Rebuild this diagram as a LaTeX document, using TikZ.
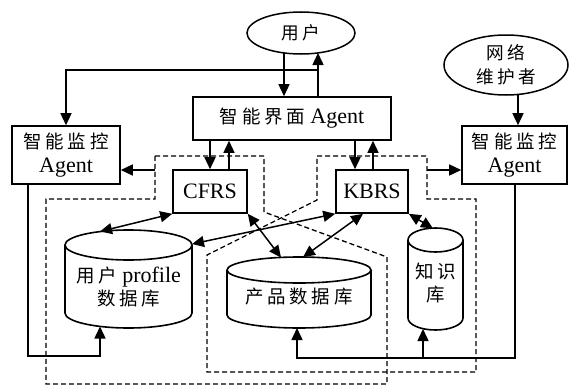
\documentclass[tikz,border=0pt]{standalone}
\usepackage{fontspec}
\setmainfont{Liberation Serif}
\newfontfamily\cjk[Scale=0.84,LetterSpace=20]{Noto Sans CJK SC}
\usetikzlibrary{arrows.meta,shapes.geometric}
\tikzset{
 box/.style={draw, line width=1.6pt, inner sep=0pt, align=center, font=\fontsize{22}{24}\selectfont},
 ell/.style={draw, ellipse, line width=1.5pt, inner sep=0pt, align=center, font=\fontsize{21}{24}\selectfont},
 lbl/.style={inner sep=0pt, align=center, font=\fontsize{22}{23}\selectfont},
 arr/.style={line width=1.5pt, -{Triangle[length=12pt,width=11pt]}},
 darr/.style={line width=1.5pt, {Triangle[length=12pt,width=11pt]}-{Triangle[length=12pt,width=11pt]}},
 dsh/.style={line width=1.3pt, dash pattern=on 5pt off 3pt},
 dbline/.style={line width=1.6pt},
}
\newcommand{\mycyl}[5]{%
 \draw[dbline] (#1-#2,#3) -- (#1-#2,#4) arc[start angle=180,end angle=0,x radius=#2,y radius=#5] -- (#1+#2,#3);
 \draw[dbline] (#1,#3) ellipse[x radius=#2, y radius=#5];}
\begin{document}
\begin{tikzpicture}[x=1pt,y=-1pt]
\useasboundingbox (0,0) rectangle (571,388);
% dashed regions
\draw[dsh] (155,156) -- (264,156) -- (264,212) -- (387,257) -- (387,384) -- (46,384) -- (46,199) -- (155,199) -- cycle;
\draw[dsh] (317,156) -- (427,156) -- (427,199) -- (476,199) -- (476,372) -- (207,372) -- (207,255) -- (317,200) -- cycle;
% nodes
\node[ell, minimum width=108, minimum height=42] (user) at (301,33) {\cjk 用户};
\node[ell, minimum width=124, minimum height=60] (net) at (506,65) {\cjk 网络\\\cjk 维护者};
\node[box, minimum width=198, minimum height=43] (iface) at (292,118.5) {{\cjk 智能界面} Agent};
\node[box, minimum width=108, minimum height=58] (lmon) at (66,155) {{\cjk 智能监控}\\Agent};
\node[box, minimum width=105, minimum height=58] (rmon) at (514.5,155) {{\cjk 智能监控}\\Agent};
\node[box, minimum width=74, minimum height=43] (cfrs) at (210,191.5) {CFRS};
\node[box, minimum width=72, minimum height=43] (kbrs) at (372,191.5) {KBRS};
% databases
\mycyl{128.5}{63.5}{245}{313}{15}
\mycyl{299}{72}{270}{315}{13}
\mycyl{435.5}{27.5}{240}{318}{12}
\node[lbl] (udb) at (128.5,287) {{\cjk 用户} profile\\{\cjk 数据库}};
\node[lbl] (pdb) at (299,297) {\cjk 产品数据库};
\node[lbl] (kdb) at (435.5,283) {\cjk 知识\\\cjk 库};
% coordinates
\coordinate (u1) at (284,53);
\coordinate (u2) at (318,53);
\coordinate (br) at (318,70);
\coordinate (n1) at (518,94);
\coordinate (d1) at (155,170);
\coordinate (d2) at (427,170);
\coordinate (udT) at (100,231.5);
\coordinate (udR) at (192,244);
\coordinate (pdT1) at (281,257.5);
\coordinate (pdT2) at (303,257.2);
\coordinate (kdT) at (433,228.5);
\coordinate (udB) at (100,326.5);
\coordinate (pdB) at (297,328);
\coordinate (kdB) at (423,329);
\coordinate (lf1) at (28,184);
\coordinate (lf2) at (28,356);
\coordinate (rf1) at (515,184);
\coordinate (rf2) at (515,358);
\coordinate (rf3) at (423,358);
% connectors top
\draw[arr] (u1) -- (u1 |- iface.north);
\draw[arr] (u2 |- iface.north) -- (u2);
\draw[arr] (br) -| (lmon.north);
\draw[arr] (n1) -- (n1 |- rmon.north);
\draw[arr] (cfrs.north |- iface.south) -- (cfrs.north);
\draw[arr] ([xshift=19pt]cfrs.north) -- ([xshift=19pt]cfrs.north |- iface.south);
\draw[arr] ([xshift=-17pt]kbrs.north |- iface.south) -- ([xshift=-17pt]kbrs.north);
\draw[arr] ([xshift=1pt]kbrs.north) -- ([xshift=1pt]kbrs.north |- iface.south);
\draw[arr] (d1) -- (d1 -| lmon.east);
\draw[arr] (d2) -- (d2 -| rmon.west);
% db links
\draw[darr] (cfrs.south west) -- (udT);
\draw[darr] (cfrs.south east) -- (pdT1);
\draw[darr] (kbrs.south west) -- (udR);
\draw[darr] ([xshift=-9pt]kbrs.south) -- (pdT2);
\draw[darr] (kbrs.south east) -- (kdT);
% feedback
\draw[arr] (lf1) -- (lf2) -| (udB);
\draw[arr] (rf1) -- (rf2) -| (pdB);
\draw[arr] (rf3) -- (kdB);
\end{tikzpicture}
\end{document}
